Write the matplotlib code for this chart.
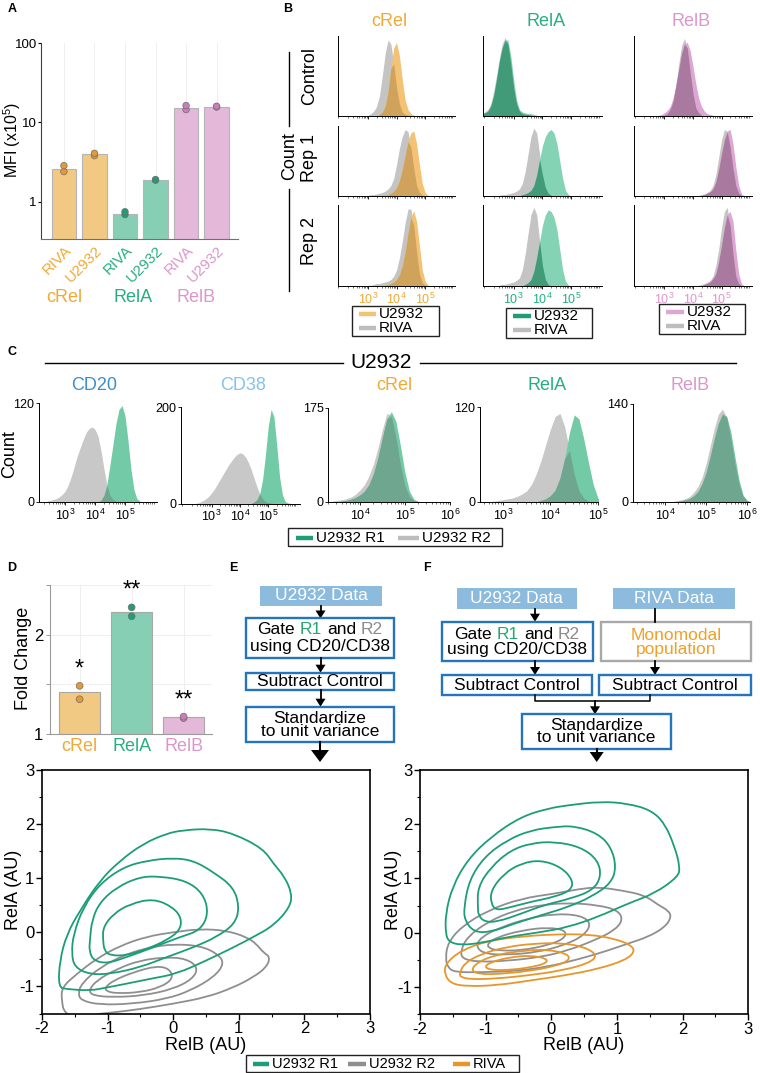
import numpy as np
import matplotlib
matplotlib.use("Agg")
import matplotlib.pyplot as plt
from matplotlib.patches import Rectangle, Polygon, PathPatch
from matplotlib.path import Path
from matplotlib.ticker import LogLocator, NullFormatter, MultipleLocator, NullLocator

plt.rcParams['font.family'] = ['Liberation Sans', 'DejaVu Sans']
plt.rcParams['mathtext.fontset'] = 'custom'
plt.rcParams['mathtext.rm'] = 'Liberation Sans'
plt.rcParams['mathtext.it'] = 'Liberation Sans:italic'
plt.rcParams['mathtext.bf'] = 'Liberation Sans:bold'
plt.rcParams['mathtext.default'] = 'regular'
plt.rcParams['axes.unicode_minus'] = False

# ===================== DATA =====================
# Panel A: MFI (x10^5)
mfi_groups = ['cRel', 'RelA', 'RelB']
mfi_cells = ['RIVA', 'U2932', 'RIVA', 'U2932', 'RIVA', 'U2932']
mfi_bars = [2.6, 4.0, 0.70, 1.87, 15.3, 15.8]
mfi_pts_1 = [2.40, 3.81, 0.69, 1.87, 14.5, 15.6]
mfi_pts_2 = [2.85, 4.08, 0.75, 1.91, 16.3, 16.0]

# Panel B histograms: (start log10, heights every 0.1 decade), relative to axis height
B_CREL_CTRL_RIVA = (3.0, [0.01, 0.03, 0.06, 0.12, 0.25, 0.5, 0.78, 0.95, 0.9, 0.65, 0.35, 0.15, 0.05, 0.02, 0.01])
B_CREL_CTRL_U = (3.4, [0.02, 0.05, 0.12, 0.3, 0.6, 0.85, 0.92, 0.75, 0.45, 0.2, 0.08, 0.03, 0.01])
B_RELA_CTRL_RIVA = (1.9, [0.03, 0.05, 0.08, 0.15, 0.3, 0.5, 0.72, 0.9, 0.98, 0.9, 0.65, 0.35, 0.15, 0.06, 0.03, 0.02, 0.02, 0.01])
B_RELA_CTRL_U = (1.9, [0.03, 0.04, 0.06, 0.12, 0.25, 0.45, 0.68, 0.85, 0.95, 0.95, 0.75, 0.45, 0.2, 0.08, 0.05, 0.04, 0.03, 0.03, 0.02, 0.01])
B_RELB_CTRL_RIVA = (3.0, [0.01, 0.03, 0.08, 0.18, 0.38, 0.65, 0.88, 0.97, 0.85, 0.55, 0.28, 0.1, 0.04, 0.01])
B_RELB_CTRL_U = (2.8, [0.01, 0.02, 0.04, 0.07, 0.12, 0.22, 0.38, 0.58, 0.78, 0.9, 0.92, 0.82, 0.62, 0.4, 0.22, 0.12, 0.06, 0.03, 0.02, 0.01])

B_CREL_R1_RIVA = (3.0, [0.01, 0.02, 0.02, 0.03, 0.04, 0.05, 0.07, 0.1, 0.15, 0.25, 0.45, 0.68, 0.85, 0.95, 0.92, 0.7, 0.4, 0.15, 0.05, 0.01])
B_CREL_R1_U = (3.6, [0.01, 0.02, 0.04, 0.07, 0.12, 0.22, 0.38, 0.58, 0.78, 0.9, 0.93, 0.75, 0.45, 0.18, 0.05, 0.01])
B_RELA_R1_RIVA = (2.5, [0.01, 0.02, 0.02, 0.03, 0.04, 0.05, 0.07, 0.1, 0.18, 0.35, 0.6, 0.85, 0.97, 0.9, 0.6, 0.3, 0.12, 0.04, 0.01])
B_RELA_R1_U = (3.3, [0.02, 0.03, 0.05, 0.08, 0.15, 0.3, 0.52, 0.72, 0.85, 0.92, 0.95, 0.9, 0.75, 0.5, 0.25, 0.08, 0.02])
B_RELB_R1_RIVA = (4.2, [0.01, 0.02, 0.03, 0.05, 0.08, 0.15, 0.3, 0.55, 0.8, 0.95, 0.92, 0.7, 0.4, 0.15, 0.04, 0.01])
B_RELB_R1_U = (4.3, [0.01, 0.02, 0.04, 0.06, 0.1, 0.2, 0.38, 0.6, 0.8, 0.93, 0.95, 0.75, 0.42, 0.15, 0.03])

B_CREL_R2_RIVA = (3.0, [0.01, 0.01, 0.02, 0.03, 0.03, 0.04, 0.05, 0.06, 0.08, 0.12, 0.2, 0.35, 0.55, 0.78, 0.95, 0.95, 0.75, 0.42, 0.15, 0.04, 0.01])
B_CREL_R2_U = (3.6, [0.01, 0.02, 0.03, 0.05, 0.08, 0.14, 0.25, 0.42, 0.65, 0.85, 0.93, 0.8, 0.5, 0.2, 0.06, 0.01])
B_RELA_R2_RIVA = (2.5, [0.01, 0.02, 0.02, 0.03, 0.04, 0.05, 0.07, 0.1, 0.2, 0.4, 0.65, 0.88, 0.97, 0.88, 0.55, 0.25, 0.08, 0.02])
B_RELA_R2_U = (3.4, [0.02, 0.04, 0.08, 0.18, 0.35, 0.55, 0.75, 0.88, 0.94, 0.92, 0.85, 0.7, 0.45, 0.2, 0.06, 0.01])
B_RELB_R2_RIVA = (4.2, [0.01, 0.02, 0.03, 0.05, 0.07, 0.12, 0.25, 0.45, 0.72, 0.92, 0.97, 0.75, 0.4, 0.12, 0.03])
B_RELB_R2_U = (4.4, [0.02, 0.03, 0.05, 0.09, 0.15, 0.3, 0.5, 0.72, 0.88, 0.92, 0.8, 0.45, 0.15, 0.03])

# Panel C histograms (counts), U2932 R1 (green) vs R2 (gray)
C_titles = ['CD20', 'CD38', 'cRel', 'RelA', 'RelB']
C_ymax = [120, 200, 175, 120, 140]
C_CD20_R2 = (2.4, [1, 2, 3, 4, 6, 9, 13, 20, 30, 42, 55, 65, 75, 84, 89, 91, 88, 80, 62, 40, 20, 8, 3, 1])
C_CD20_R1 = (4.2, [2, 8, 22, 45, 70, 95, 112, 117, 105, 75, 40, 15, 4, 1])
C_CD38_R2 = (2.5, [1, 3, 6, 10, 15, 22, 30, 40, 50, 60, 70, 80, 88, 96, 102, 105, 103, 96, 85, 70, 52, 35, 20, 10, 4, 2, 1])
C_CD38_R1 = (4.5, [3, 8, 20, 50, 100, 160, 195, 180, 120, 55, 18, 4, 1])
C_CREL_R2 = (3.4, [2, 3, 4, 6, 9, 14, 22, 32, 48, 70, 100, 135, 165, 160, 120, 70, 30, 10, 3, 1])
C_CREL_R1 = (3.6, [2, 3, 5, 8, 13, 20, 32, 52, 82, 120, 155, 168, 150, 105, 55, 20, 5, 1])
C_RELA_R2 = (2.8, [1, 2, 3, 4, 5, 7, 10, 14, 22, 35, 52, 72, 92, 108, 112, 95, 65, 35, 14, 5, 1])
C_RELA_R1 = (3.8, [2, 4, 8, 15, 30, 55, 88, 110, 105, 80, 50, 22, 5])
C_RELB_R2 = (4.2, [1, 2, 3, 5, 8, 14, 22, 35, 55, 80, 105, 125, 132, 120, 90, 55, 25, 8, 2])
C_RELB_R1 = (4.3, [1, 2, 3, 5, 9, 15, 26, 42, 65, 90, 112, 125, 122, 100, 65, 32, 10, 2])

# Panel D: fold change
fold_groups = ['cRel', 'RelA', 'RelB']
fold_bars = [1.42, 2.23, 1.17]
fold_pts_1 = [1.35, 2.185, 1.16]
fold_pts_2 = [1.485, 2.275, 1.175]
fold_stars = ['*', '**', '**']

# Contours (RelB, RelA) in AU
L_R1 = [
    [(-1.75, -1.02), (-1.73, -0.52), (-1.62, -0.03), (-1.42, 0.40), (-1.12, 0.95), (-0.81, 1.32), (-0.46, 1.63), (-0.10, 1.82), (0.15, 1.88), (0.56, 1.91), (0.92, 1.82), (1.37, 1.54), (1.53, 1.26), (1.70, 1.02), (1.81, 0.71), (1.78, 0.46), (1.53, 0.12), (1.22, -0.09), (0.92, -0.28), (0.51, -0.52), (0.05, -0.77), (-0.35, -0.86), (-0.71, -0.95), (-1.01, -1.02), (-1.27, -1.08), (-1.62, -1.05)],
    [(-1.55, -0.40), (-1.52, -0.03), (-1.37, 0.46), (-1.12, 0.89), (-0.76, 1.20), (-0.40, 1.32), (0.0, 1.37), (0.31, 1.32), (0.61, 1.11), (0.92, 0.83), (1.01, 0.46), (0.94, 0.15), (0.66, -0.09), (0.31, -0.28), (-0.10, -0.46), (-0.51, -0.65), (-0.96, -0.77), (-1.27, -0.78), (-1.50, -0.65)],
    [(-1.28, -0.34), (-1.27, -0.15), (-1.24, 0.22), (-1.12, 0.55), (-0.86, 0.83), (-0.51, 1.02), (-0.20, 1.03), (0.20, 0.95), (0.46, 0.71), (0.54, 0.34), (0.41, 0.03), (0.10, -0.09), (-0.30, -0.28), (-0.71, -0.46), (-1.01, -0.58), (-1.22, -0.52)],
    [(-1.07, -0.15), (-1.07, 0.09), (-0.91, 0.34), (-0.66, 0.52), (-0.30, 0.62), (0.0, 0.46), (0.13, 0.25), (0.10, 0.03), (-0.10, -0.15), (-0.40, -0.31), (-0.71, -0.43), (-0.96, -0.43), (-1.05, -0.34)],
]
L_R2 = [
    [(-1.70, -1.02), (-1.47, -0.77), (-1.17, -0.49), (-0.81, -0.25), (-0.40, -0.08), (0.0, 0.0), (0.41, 0.06), (0.81, 0.03), (1.12, -0.09), (1.27, -0.22), (1.37, -0.37), (1.48, -0.46), (1.42, -0.65), (1.22, -0.83), (0.92, -1.02), (0.51, -1.20), (0.0, -1.32), (-0.51, -1.42), (-0.91, -1.48), (-1.17, -1.51), (-1.42, -1.60), (-1.66, -1.50), (-1.70, -1.26)],
    [(-1.45, -1.14), (-1.40, -0.95), (-1.12, -0.65), (-0.71, -0.40), (-0.35, -0.28), (0.0, -0.22), (0.41, -0.25), (0.68, -0.40), (0.78, -0.58), (0.62, -0.83), (0.26, -1.08), (-0.10, -1.23), (-0.61, -1.32), (-1.12, -1.34), (-1.40, -1.26)],
    [(-1.29, -1.08), (-1.17, -0.89), (-0.86, -0.68), (-0.51, -0.52), (-0.10, -0.46), (0.20, -0.49), (0.38, -0.65), (0.30, -0.86), (0.0, -1.05), (-0.46, -1.17), (-0.91, -1.20), (-1.22, -1.17)],
    [(-1.04, -1.02), (-0.91, -0.89), (-0.61, -0.74), (-0.25, -0.62), (-0.05, -0.68), (0.0, -0.86), (-0.20, -1.02), (-0.51, -1.11), (-0.86, -1.13), (-1.02, -1.09)],
]
R_R1 = [
    [(-1.61, -0.02), (-1.61, 0.35), (-1.51, 0.84), (-1.28, 1.34), (-0.92, 1.77), (-0.46, 2.14), (-0.05, 2.29), (0.25, 2.35), (0.76, 2.42), (1.17, 2.38), (1.52, 2.26), (1.73, 2.01), (1.88, 1.58), (1.96, 1.21), (1.93, 1.03), (1.57, 0.72), (1.17, 0.54), (0.71, 0.29), (0.25, 0.10), (-0.16, 0.01), (-0.67, -0.08), (-1.07, -0.19), (-1.38, -0.23), (-1.56, -0.17)],
    [(-1.33, 0.47), (-1.25, 0.97), (-1.02, 1.40), (-0.67, 1.71), (-0.31, 1.89), (0.05, 1.95), (0.35, 1.97), (0.71, 1.83), (0.91, 1.58), (0.99, 1.21), (0.91, 0.91), (0.61, 0.66), (0.25, 0.47), (-0.16, 0.32), (-0.56, 0.17), (-0.92, 0.01), (-1.18, 0.01), (-1.32, 0.23)],
    [(-1.12, 0.47), (-1.12, 0.84), (-0.92, 1.21), (-0.62, 1.52), (-0.31, 1.65), (0.05, 1.68), (0.45, 1.58), (0.71, 1.34), (0.76, 1.03), (0.63, 0.78), (0.30, 0.63), (-0.11, 0.51), (-0.46, 0.35), (-0.82, 0.20), (-1.02, 0.20), (-1.11, 0.32)],
    [(-0.92, 0.54), (-0.92, 0.78), (-0.72, 1.09), (-0.46, 1.28), (-0.16, 1.34), (0.15, 1.21), (0.33, 0.97), (0.30, 0.78), (0.05, 0.66), (-0.31, 0.57), (-0.62, 0.47), (-0.84, 0.41)],
]
R_R2 = [
    [(-1.58, -0.63), (-1.61, -0.48), (-1.58, -0.20), (-1.38, 0.10), (-0.97, 0.41), (-0.46, 0.63), (0.05, 0.72), (0.45, 0.81), (0.71, 0.84), (1.07, 0.78), (1.42, 0.69), (1.63, 0.51), (1.78, 0.41), (1.83, 0.29), (1.73, 0.10), (1.47, -0.08), (1.17, -0.20), (0.86, -0.33), (0.45, -0.48), (-0.06, -0.63), (-0.56, -0.71), (-1.07, -0.73), (-1.48, -0.73)],
    [(-1.38, -0.33), (-1.28, -0.08), (-0.97, 0.20), (-0.56, 0.41), (-0.16, 0.51), (0.25, 0.55), (0.71, 0.51), (1.02, 0.41), (1.09, 0.23), (0.96, 0.04), (0.66, -0.14), (0.25, -0.33), (-0.16, -0.45), (-0.67, -0.52), (-1.12, -0.54), (-1.36, -0.48)],
    [(-1.15, -0.26), (-1.07, -0.08), (-0.77, 0.10), (-0.36, 0.26), (0.05, 0.35), (0.45, 0.32), (0.61, 0.17), (0.50, -0.05), (0.20, -0.23), (-0.21, -0.36), (-0.67, -0.41), (-1.02, -0.39)],
    [(-0.97, -0.20), (-0.82, -0.08), (-0.46, 0.04), (-0.05, 0.10), (0.23, 0.04), (0.20, -0.11), (-0.05, -0.23), (-0.46, -0.33), (-0.82, -0.33), (-0.96, -0.28)],
]
R_RIVA = [
    [(-1.63, -0.76), (-1.61, -0.57), (-1.38, -0.33), (-0.97, -0.15), (-0.46, -0.07), (0.05, -0.03), (0.56, -0.03), (0.96, -0.11), (1.22, -0.23), (1.27, -0.36), (1.12, -0.51), (0.71, -0.67), (0.20, -0.79), (-0.31, -0.88), (-0.82, -0.97), (-1.28, -0.99), (-1.53, -0.94)],
    [(-1.40, -0.76), (-1.33, -0.57), (-1.07, -0.39), (-0.67, -0.26), (-0.26, -0.20), (0.15, -0.19), (0.50, -0.26), (0.71, -0.42), (0.56, -0.57), (0.15, -0.70), (-0.36, -0.79), (-0.87, -0.85), (-1.23, -0.86), (-1.38, -0.82)],
    [(-1.23, -0.70), (-1.12, -0.54), (-0.82, -0.40), (-0.41, -0.33), (-0.06, -0.31), (0.25, -0.39), (0.28, -0.51), (0.05, -0.62), (-0.36, -0.71), (-0.77, -0.76), (-1.07, -0.77)],
    [(-1.02, -0.63), (-0.92, -0.54), (-0.62, -0.45), (-0.31, -0.42), (-0.06, -0.48), (-0.08, -0.57), (-0.36, -0.65), (-0.67, -0.69), (-0.92, -0.69)],
]

# ===================== STYLE =====================
OR_BAR, OR_PT, OR_TXT = '#F2C982', '#E8982F', '#F0A935'
GR_BAR, GR_PT, GR_TXT = '#86CFB4', '#1E9E74', '#27AE80'
PK_BAR, PK_PT, PK_TXT = '#E3B8D9', '#C97EBA', '#DC96CB'
H_GRAY = '#C4C4C4'
H_OR, H_OR_OV = '#F4C274', '#CFA35C'
H_GR, H_GR_OV = '#84D3B4', '#419B79'
H_PK, H_PK_OV = '#DDA6D3', '#A9799F'
C_GR, C_GRAY, C_OV = '#72CBA6', '#C8C8C8', '#6EA68F'
CT_GR, CT_GRAY, CT_OR = '#1B9E77', '#8F8F8F', '#E8962A'
BLUE_EDGE, DATA_FILL = '#2474BE', '#8DBBDE'

W, H = 760, 1073
fig = plt.figure(figsize=(W / 100, H / 100), dpi=100)


def add_ax(x0, y0, x1, y1):
    return fig.add_axes([x0 / W, 1 - y1 / H, (x1 - x0) / W, (y1 - y0) / H])


# ===================== PANEL A =====================
axA = add_ax(41, 43, 238, 239)
axA.set_yscale('log')
xa = np.arange(len(mfi_bars))
bar_cols = [OR_BAR, OR_BAR, GR_BAR, GR_BAR, PK_BAR, PK_BAR]
pt_cols = [OR_PT, OR_PT, GR_PT, GR_PT, PK_PT, PK_PT]
txt_cols = [OR_TXT, OR_TXT, GR_TXT, GR_TXT, PK_TXT, PK_TXT]
for x in xa:
    axA.axvline(x, color='#EDEDED', lw=0.6, zorder=0)
axA.bar(xa, mfi_bars, width=0.8, color=bar_cols, edgecolor='#B5B5B5', linewidth=0.8, zorder=2)
for pts in (mfi_pts_1, mfi_pts_2):
    axA.scatter(xa, pts, s=22, c=pt_cols, edgecolors='#6E6E6E', linewidths=0.5, zorder=3)
axA.set_ylim(0.34, 100)
axA.set_xlim(-0.75, 5.7)
axA.set_yticks([1, 10, 100])
axA.set_yticklabels(['1', '10', '100'])
axA.yaxis.set_minor_locator(NullLocator())
axA.tick_params(axis='y', labelsize=9.5, length=2.5, width=0.8, pad=0.5)
axA.set_xticks(xa)
axA.set_xticklabels(mfi_cells, rotation=45, ha='right', rotation_mode='anchor', fontsize=11)
axA.tick_params(axis='x', length=0, pad=3)
for lab, c in zip(axA.get_xticklabels(), txt_cols):
    lab.set_color(c)
for s in ('top', 'right'):
    axA.spines[s].set_visible(False)
axA.spines['left'].set_color('#404040')
axA.spines['bottom'].set_color('#707070')

# ===================== PANEL B =====================
G0, GN = 1.8, 46
GRID_X = 10 ** (G0 + 0.1 * np.arange(GN))


def to_grid(h):
    start, vals = h
    arr = np.zeros(GN)
    i0 = int(round((start - G0) / 0.1))
    arr[i0:i0 + len(vals)] = vals
    return arr


def draw_pair(ax, base, top, c_base, c_top, c_ov):
    a, b = to_grid(base), to_grid(top)
    ax.fill_between(GRID_X, 0, a, color=c_base, lw=0)
    ax.fill_between(GRID_X, 0, b, color=c_top, lw=0)
    ax.fill_between(GRID_X, 0, np.minimum(a, b), color=c_ov, lw=0)


B_cols = [(337.5, 455.4), (482.9, 601.8), (633.9, 751.8)]
B_rows = [(36, 116), (126, 196), (205, 286)]
B_data = [
    [(B_CREL_CTRL_RIVA, B_CREL_CTRL_U), (B_RELA_CTRL_RIVA, B_RELA_CTRL_U), (B_RELB_CTRL_RIVA, B_RELB_CTRL_U)],
    [(B_CREL_R1_RIVA, B_CREL_R1_U), (B_RELA_R1_RIVA, B_RELA_R1_U), (B_RELB_R1_RIVA, B_RELB_R1_U)],
    [(B_CREL_R2_RIVA, B_CREL_R2_U), (B_RELA_R2_RIVA, B_RELA_R2_U), (B_RELB_R2_RIVA, B_RELB_R2_U)],
]
B_top_cols = [(H_OR, H_OR_OV), (H_GR, H_GR_OV), (H_PK, H_PK_OV)]
B_lab_cols = [OR_TXT, GR_TXT, PK_TXT]
for r, (y0, y1) in enumerate(B_rows):
    for c, (x0, x1) in enumerate(B_cols):
        ax = add_ax(x0, y0, x1, y1)
        riva, u = B_data[r][c]
        draw_pair(ax, riva, u, H_GRAY, B_top_cols[c][0], B_top_cols[c][1])
        ax.set_xscale('log')
        ax.set_xlim(10 ** 1.93, 10 ** 6.06)
        ax.set_ylim(0, 1.0)
        ax.set_yticks([])
        ax.set_xticks([1e3, 1e4, 1e5])
        ax.xaxis.set_minor_locator(LogLocator(base=10, subs=np.arange(2, 10), numticks=20))
        ax.xaxis.set_minor_formatter(NullFormatter())
        ax.tick_params(axis='x', which='major', length=2.5, width=0.6, pad=1.5)
        ax.tick_params(axis='x', which='minor', length=1.3, width=0.4)
        if r == 2:
            ax.set_xticklabels([r'$10^3$', r'$10^4$', r'$10^5$'], fontsize=9, color=B_lab_cols[c])
        else:
            ax.set_xticklabels([])
        for s in ('top', 'right'):
            ax.spines[s].set_visible(False)
        for s in ('left', 'bottom'):
            ax.spines[s].set_linewidth(0.7)

# ===================== PANEL C =====================
C_axes = [(39, 403, 156.7, 502), (181, 407, 300, 503.5), (328.3, 408, 450, 502), (480, 407, 598, 502), (633.3, 403.5, 750, 502)]
C_xlims = [(2.13, 6.06), (1.92, 6.12), (3.3, 6.0), (2.52, 5.0), (3.22, 6.07)]
C_ticks = [[3, 4, 5], [3, 4, 5], [4, 5, 6], [3, 4, 5], [4, 5, 6]]
C_data = [(C_CD20_R2, C_CD20_R1), (C_CD38_R2, C_CD38_R1), (C_CREL_R2, C_CREL_R1), (C_RELA_R2, C_RELA_R1), (C_RELB_R2, C_RELB_R1)]
for i, rect in enumerate(C_axes):
    ax = add_ax(*rect)
    r2, r1 = C_data[i]
    draw_pair(ax, r2, r1, C_GRAY, C_GR, C_OV)
    ax.set_xscale('log')
    ax.set_xlim(10 ** C_xlims[i][0], 10 ** C_xlims[i][1])
    ax.set_ylim(0, C_ymax[i])
    ax.set_yticks([0, C_ymax[i]])
    ax.set_xticks([10.0 ** t for t in C_ticks[i]])
    ax.set_xticklabels([r'$10^{%d}$' % t for t in C_ticks[i]], fontsize=9)
    ax.xaxis.set_minor_locator(LogLocator(base=10, subs=np.arange(2, 10), numticks=20))
    ax.xaxis.set_minor_formatter(NullFormatter())
    ax.tick_params(axis='y', labelsize=9, length=2.5, width=0.6, pad=1)
    ax.tick_params(axis='x', which='major', length=2.5, width=0.6, pad=1.5)
    ax.tick_params(axis='x', which='minor', length=1.3, width=0.4)
    for s in ('top', 'right'):
        ax.spines[s].set_visible(False)
    for s in ('left', 'bottom'):
        ax.spines[s].set_linewidth(0.7)

# ===================== PANEL D =====================
axD = add_ax(50, 585, 211.7, 734)
xd = np.arange(len(fold_bars))
d_bar = [OR_BAR, GR_BAR, PK_BAR]
d_pt = [OR_PT, GR_PT, PK_PT]
axD.set_axisbelow(True)
axD.grid(True, color='#EBEBEB', lw=0.6)
axD.bar(xd, fold_bars, width=0.8, color=d_bar, edgecolor='#A8A8A8', linewidth=0.8, zorder=2, bottom=0)
for pts in (fold_pts_1, fold_pts_2):
    axD.scatter(xd, pts, s=24, c=d_pt, edgecolors='#6E6E6E', linewidths=0.5, zorder=3)
for i, st in enumerate(fold_stars):
    axD.annotate(st, xy=(xd[i], max(fold_pts_1[i], fold_pts_2[i])), xytext=(0, 4),
                 textcoords='offset points', ha='center', va='bottom', fontsize=17)
axD.set_ylim(1, 2.5)
axD.set_xlim(-0.57, 2.54)
axD.set_yticks([1, 1.5, 2, 2.5])
axD.set_yticklabels(['1', '', '2', ''])
axD.tick_params(axis='y', labelsize=12, length=3, width=0.6, pad=2, color='#888888')
axD.set_xticks(xd)
axD.set_xticklabels(fold_groups, fontsize=13)
axD.tick_params(axis='x', length=0, pad=3)
for lab, c in zip(axD.get_xticklabels(), [OR_TXT, GR_TXT, PK_TXT]):
    lab.set_color(c)
for s in ('top', 'right'):
    axD.spines[s].set_visible(False)
for s in ('left', 'bottom'):
    axD.spines[s].set_color('#9A9A9A')


# ===================== CONTOURS =====================
def smooth_closed_path(pts):
    # quadratic Bezier path with the read contour vertices as control points
    P = np.array(pts, dtype=float)
    mids = (P + np.roll(P, -1, axis=0)) / 2.0
    verts = [mids[-1]]
    codes = [Path.MOVETO]
    for i in range(len(P)):
        verts += [P[i], mids[i]]
        codes += [Path.CURVE3, Path.CURVE3]
    return Path(verts, codes)


def contour_ax(rect, groups):
    ax = add_ax(*rect)
    for conts, col in groups:
        for cc in conts:
            ax.add_patch(PathPatch(smooth_closed_path(cc), fc='none', ec=col, lw=1.3))
    ax.set_xlim(-2, 3)
    ax.set_ylim(-1.5, 3)
    ax.set_xticks([-2, -1, 0, 1, 2, 3])
    ax.set_yticks([-1, 0, 1, 2, 3])
    ax.xaxis.set_minor_locator(MultipleLocator(0.5))
    ax.yaxis.set_minor_locator(MultipleLocator(0.5))
    ax.tick_params(which='major', length=4, width=1.0, labelsize=12, pad=1.5)
    ax.tick_params(which='minor', length=2.5, width=0.8)
    for s in ax.spines.values():
        s.set_linewidth(1.2)
    return ax


axL = contour_ax((42, 769.5, 370, 1013.5), [(L_R2, CT_GRAY), (L_R1, CT_GR)])
axR = contour_ax((420, 770, 748.3, 1014), [(R_R2, CT_GRAY), (R_RIVA, CT_OR), (R_R1, CT_GR)])

# ===================== OVERLAY (annotations, flowcharts, legends) =====================
fa = fig.add_axes([0, 0, 1, 1])
fa.set_xlim(0, W)
fa.set_ylim(H, 0)
fa.axis('off')
renderer = fig.canvas.get_renderer()


def T(x, y, s, fs=12, color='k', rot=0, ha='center', va='center', weight='normal'):
    return fa.text(x, y, s, fontsize=fs, color=color, rotation=rot, ha=ha, va=va, fontweight=weight)


# panel letters
for lab, x, y in [('A', 12, 9), ('B', 288, 9), ('C', 12, 352), ('D', 12, 568), ('E', 233, 568), ('F', 427, 568)]:
    T(x, y, lab, fs=9, weight='bold')

# axis labels
T(12, 140, 'MFI (x10$^5$)', fs=11.5, rot=90)
for lab, x, c in [('cRel', 64, OR_TXT), ('RelA', 133, GR_TXT), ('RelB', 196, PK_TXT)]:
    T(x, 298, lab, fs=13, color=c)
T(10, 454, 'Count', fs=13, rot=90)
T(24, 658, 'Fold Change', fs=13, rot=90)
T(13, 890, 'RelA (AU)', fs=13, rot=90)
T(393, 890, 'RelA (AU)', fs=13, rot=90)
T(206, 1046, 'RelB (AU)', fs=13)
T(584, 1046, 'RelB (AU)', fs=13)

# panel B headers and row labels
for lab, x, c in [('cRel', 389, OR_TXT), ('RelA', 546, GR_TXT), ('RelB', 691, PK_TXT)]:
    T(x, 21, lab, fs=13, color=c)
T(310, 76, 'Control', fs=13, rot=90)
T(290, 156, 'Count', fs=13, rot=90)
T(310, 158, 'Rep 1', fs=13, rot=90)
T(310, 241, 'Rep 2', fs=13, rot=90)
fa.plot([288.6, 288.6], [52, 126], color='k', lw=1.0)
fa.plot([288.6, 288.6], [189, 291], color='k', lw=1.0)


def legend_box(x0, y0, x1, y1, entries, fs, lw=3.2):
    fa.add_patch(Rectangle((x0, y0), x1 - x0, y1 - y0, fc='white', ec='#222222', lw=1.0))
    for (hx0, hx1, y, col, lab) in entries:
        fa.plot([hx0, hx1], [y, y], color=col, lw=lw, solid_capstyle='butt')
        T(hx1 + 3, y, lab, fs=fs, ha='left')


legend_box(352, 306, 439, 336, [(359, 376, 314, H_OR, 'U2932'), (359, 376, 328, '#BDBDBD', 'RIVA')], 11)
legend_box(506, 308, 592, 338, [(513, 531, 316, '#1E9E74', 'U2932'), (513, 531, 330, '#BDBDBD', 'RIVA')], 11)
legend_box(659, 304, 745, 334, [(666, 684, 312, H_PK, 'U2932'), (666, 684, 326, '#BDBDBD', 'RIVA')], 11)

# panel C header
fa.plot([45, 343], [363, 363], color='k', lw=1.0)
T(381, 363, 'U2932', fs=15)
fa.plot([420, 736], [363, 363], color='k', lw=1.0)
for lab, x, c in [('CD20', 94, '#3A8FCB'), ('CD38', 243, '#82C4EC'), ('cRel', 394, OR_TXT), ('RelA', 547, GR_TXT), ('RelB', 690, PK_TXT)]:
    T(x, 386, lab, fs=13, color=c)
legend_box(288, 528, 502, 546, [(296, 313, 537.5, '#1E9E74', 'U2932 R1'), (398, 419, 537.5, '#BDBDBD', 'U2932 R2')], 11)

# bottom legend
legend_box(246, 1055, 519, 1072, [(253, 269, 1063.5, CT_GR, 'U2932 R1'), (348, 366, 1063.5, CT_GRAY, 'U2932 R2'),
                                  (453, 470, 1063.5, CT_OR, 'RIVA')], 10.5)


# flowcharts
def box(x0, y0, x1, y1, ec=BLUE_EDGE, fc='white', lw=1.7):
    fa.add_patch(Rectangle((x0, y0), x1 - x0, y1 - y0, fc=fc, ec=ec, lw=lw))


def arrow(x, y0, y1, hw=5.0, hl=8.0, lw=1.3):
    fa.plot([x, x], [y0, y1 - hl + 1], color='k', lw=lw)
    fa.add_patch(Polygon([[x - hw, y1 - hl], [x + hw, y1 - hl], [x, y1]], closed=True, fc='k', ec='none'))


def text_width(s, fs):
    t = fa.text(0, 0, s, fontsize=fs)
    w = t.get_window_extent(renderer=renderer).width
    t.remove()
    return w


def multicolor(xc, y, parts, fs):
    sp = text_width('a a', fs) - text_width('aa', fs)
    widths = [text_width(s, fs) for s, _ in parts]
    total = sum(widths) + sp * (len(parts) - 1)
    x = xc - total / 2
    for (s, c), w in zip(parts, widths):
        fa.text(x, y, s, color=c, fontsize=fs, ha='left', va='center')
        x += w + sp


FS = 12.5
gate_parts = [('Gate', 'k'), ('R1', '#27A872'), ('and', 'k'), ('R2', '#8C8C8C')]

# E
box(260, 586, 382, 606, ec='none', fc=DATA_FILL)
T(321, 596, 'U2932 Data', fs=FS, color='white')
arrow(320.5, 606, 618.5)
box(245.7, 618.3, 394.3, 657.7)
multicolor(320, 630, gate_parts, FS)
T(320, 646.5, 'using CD20/CD38', fs=FS)
arrow(320.5, 657.7, 672.7)
box(245.7, 672.7, 394.3, 690)
T(320, 681.3, 'Subtract Control', fs=FS)
arrow(320.5, 690, 706.7)
box(245.7, 706.7, 394.3, 741.7)
T(320, 718.5, 'Standardize', fs=FS)
T(320, 731.5, 'to unit variance', fs=FS)
arrow(320, 741.7, 762, hw=9, hl=12, lw=1.5)

# F
box(456.7, 588.3, 576.7, 609.3, ec='none', fc=DATA_FILL)
T(516.7, 598.8, 'U2932 Data', fs=FS, color='white')
box(613.3, 588.3, 735, 609.3, ec='none', fc=DATA_FILL)
T(674.2, 598.8, 'RIVA Data', fs=FS, color='white')
arrow(535, 609.3, 621.7)
fa.plot([655, 655], [609.3, 621.7], color='k', lw=1.3)
box(441.7, 621.7, 592.7, 661)
multicolor(517.2, 634.3, gate_parts, FS)
T(517.2, 649.3, 'using CD20/CD38', fs=FS)
box(600.7, 621.7, 750.7, 661, ec='#A8A8A8')
T(675.7, 635, 'Monomodal', fs=FS, color='#F0A025')
T(675.7, 649.3, 'population', fs=FS, color='#F0A025')
arrow(535, 661, 675)
arrow(655, 661, 675)
box(441.7, 675, 591.7, 695)
T(516.7, 685, 'Subtract Control', fs=FS)
box(599.3, 675, 750.7, 695)
T(675, 685, 'Subtract Control', fs=FS)
fa.plot([535, 535, 650, 650], [695, 700.7, 700.7, 695], color='k', lw=1.1)
arrow(595, 700.7, 714.3)
box(521.7, 714.3, 670.7, 749.3)
T(596.2, 725, 'Standardize', fs=FS)
T(596.2, 738, 'to unit variance', fs=FS)
arrow(596.7, 749.3, 762, hw=7, hl=10, lw=1.5)

fig.savefig('out.png', dpi=100)
